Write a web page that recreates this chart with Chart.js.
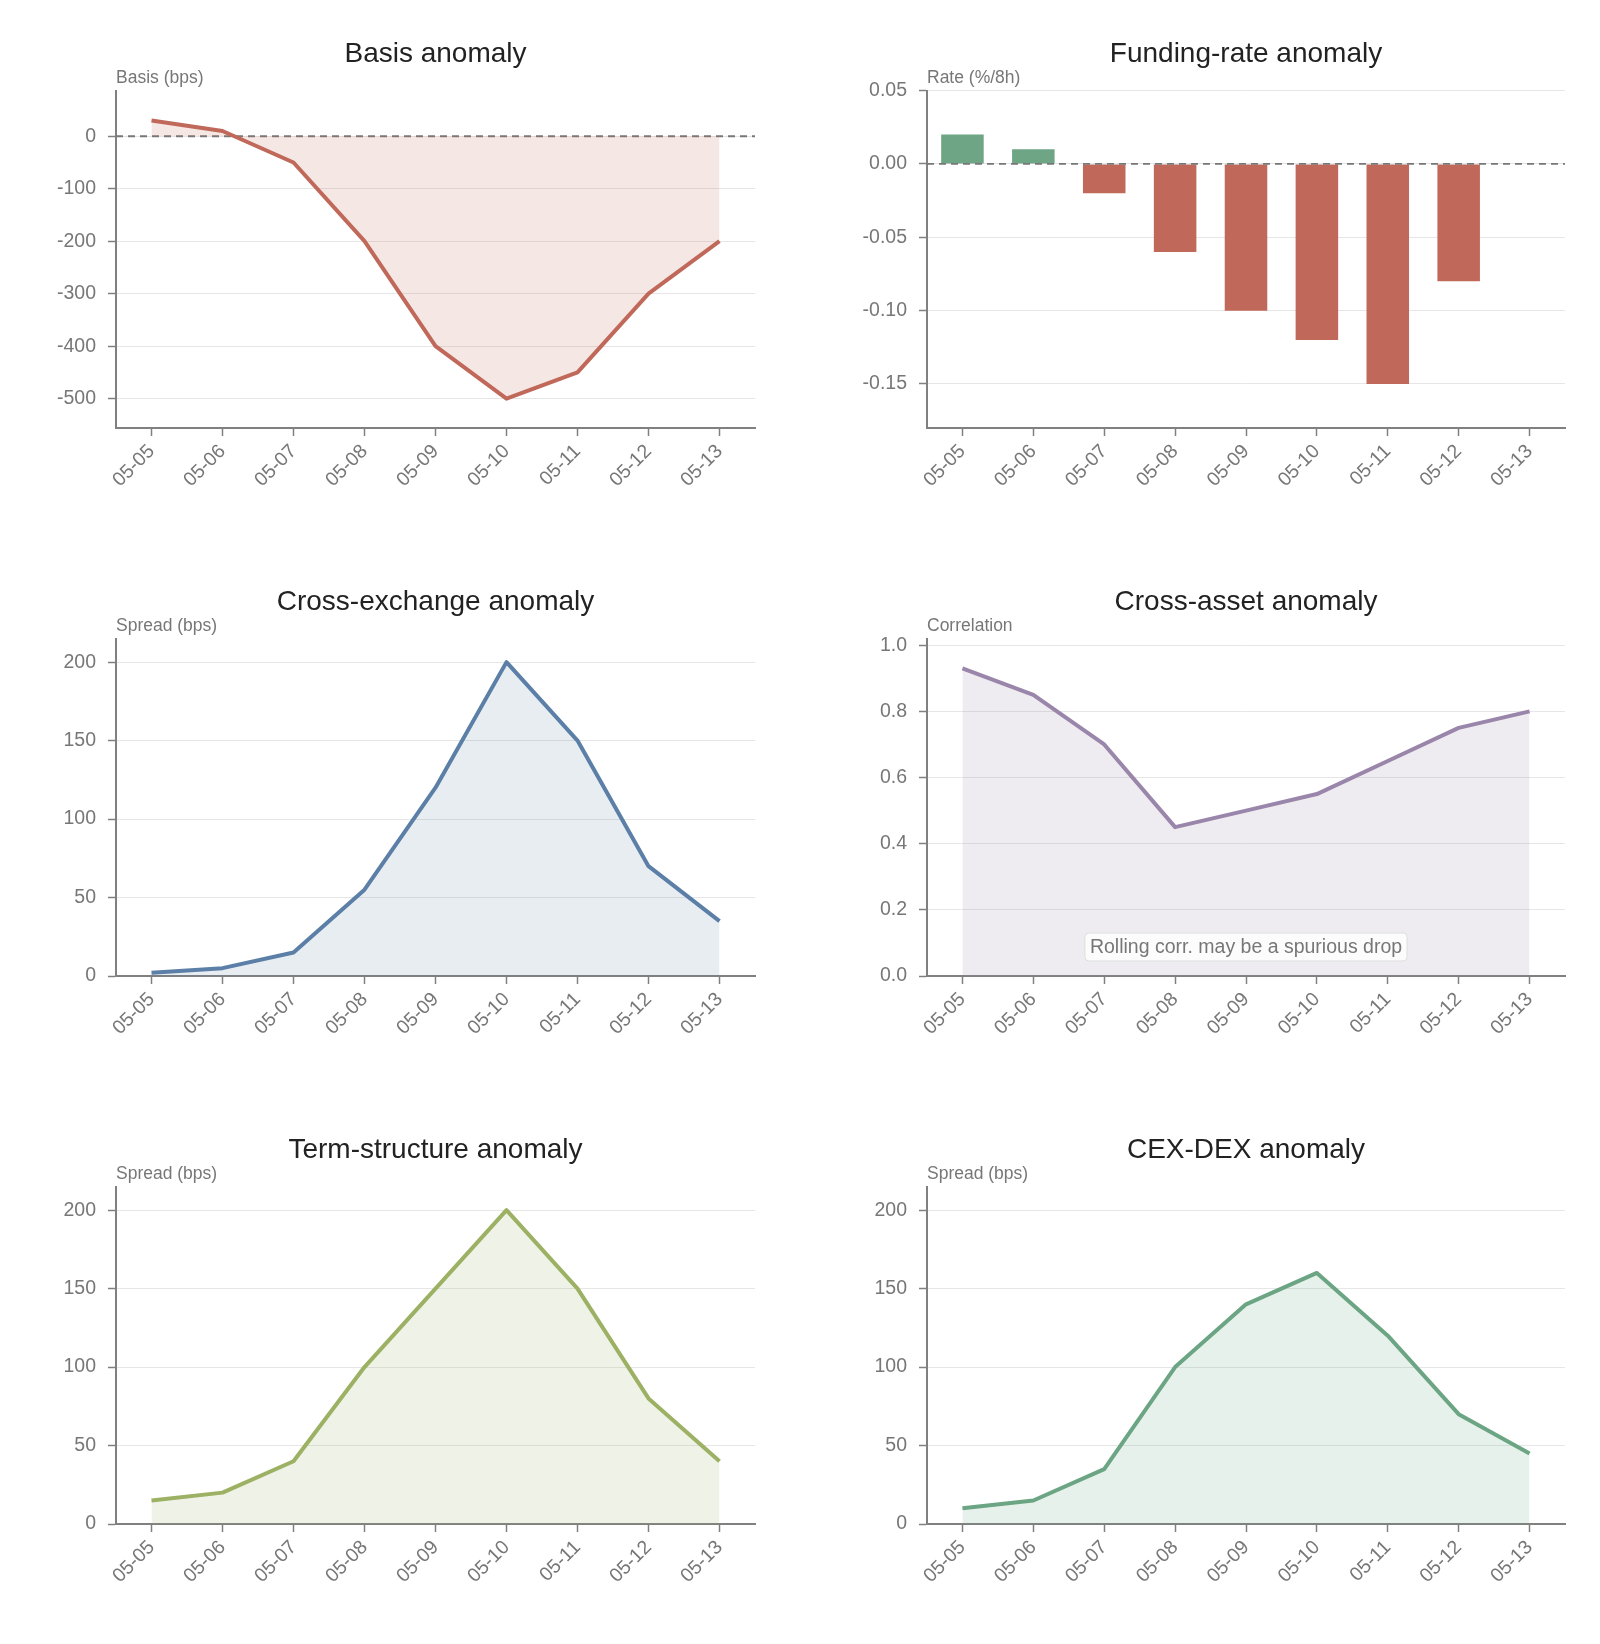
<!DOCTYPE html>
<html lang="en">
<head>
<meta charset="utf-8">
<title>Anomaly panels</title>
<script src="https://cdn.jsdelivr.net/npm/chart.js@4.4.1/dist/chart.umd.min.js"></script>
<style>
    html, body { margin: 0; padding: 0; background: #ffffff; }
    .grid {
        display: grid;
        grid-template-columns: 800px 800px;
        grid-template-rows: repeat(3, 548px);
        width: 1600px;
        height: 1644px;
    }
    .chart-container { position: relative; width: 800px; height: 548px; }
</style>
</head>
<body>
<div class="grid">
    <div class="chart-container"><canvas id="chartBasis"></canvas></div>
    <div class="chart-container"><canvas id="chartFunding"></canvas></div>
    <div class="chart-container"><canvas id="chartCrossExchange"></canvas></div>
    <div class="chart-container"><canvas id="chartCrossAsset"></canvas></div>
    <div class="chart-container"><canvas id="chartTermStructure"></canvas></div>
    <div class="chart-container"><canvas id="chartCexDex"></canvas></div>
</div>
<script>
// Data
const dates = ['05-05', '05-06', '05-07', '05-08', '05-09', '05-10', '05-11', '05-12', '05-13']

const basisValues = [30, 10, -50, -200, -400, -500, -450, -300, -200]
const fundingValues = [0.02, 0.01, -0.02, -0.06, -0.10, -0.12, -0.15, -0.08, null]
const crossExchangeValues = [2, 5, 15, 55, 120, 200, 150, 70, 35]
const crossAssetValues = [0.93, 0.85, 0.70, 0.45, 0.50, 0.55, 0.65, 0.75, 0.80]
const termStructureValues = [15, 20, 40, 100, 150, 200, 150, 80, 40]
const cexDexValues = [10, 15, 35, 100, 140, 160, 120, 70, 45]

const basisTicks = [-500, -400, -300, -200, -100, 0]
const fundingTicks = [-0.15, -0.10, -0.05, 0, 0.05]
const spreadTicks = [0, 50, 100, 150, 200]
const correlationTicks = [0, 0.2, 0.4, 0.6, 0.8, 1.0]

const crossAssetNote = 'Rolling corr. may be a spurious drop'

// Styles
const FONT = '"Liberation Sans", Arial, Helvetica, sans-serif'
const AXIS_COLOR = '#808080'
const TICK_COLOR = '#777777'
const GRID_COLOR = '#e6e6e6'
const RED = '#c0695a'
const GREEN = '#6ea585'
const TICK_FONT = { size: 19.5, family: FONT }

// Dashed line at y = 0
function zeroLine(onTop) {
    const draw = (chart) => {
        const { ctx, chartArea, scales } = chart
        const y = scales.y.getPixelForValue(0)
        ctx.save()
        ctx.strokeStyle = '#777777'
        ctx.lineWidth = 1.8
        ctx.setLineDash([7, 5])
        ctx.beginPath()
        ctx.moveTo(chartArea.left, y)
        ctx.lineTo(chartArea.right, y)
        ctx.stroke()
        ctx.restore()
    }
    return onTop
        ? { id: 'zeroLineTop', afterDatasetsDraw: draw }
        : { id: 'zeroLine', beforeDatasetsDraw: draw }
}

// Boxed note inside the correlation chart
const notePlugin = {
    id: 'note',
    afterDraw(chart) {
        const { ctx, chartArea } = chart
        ctx.save()
        ctx.font = `19.5px ${FONT}`
        const w = ctx.measureText(crossAssetNote).width + 10
        const h = 28
        const cx = (chartArea.left + chartArea.right) / 2
        const cy = chartArea.bottom - 29
        ctx.beginPath()
        ctx.roundRect(cx - w / 2, cy - h / 2, w, h, 4)
        ctx.fillStyle = 'rgba(255, 255, 255, 0.85)'
        ctx.fill()
        ctx.strokeStyle = '#dddddd'
        ctx.lineWidth = 1
        ctx.stroke()
        ctx.fillStyle = TICK_COLOR
        ctx.textAlign = 'center'
        ctx.textBaseline = 'middle'
        ctx.fillText(crossAssetNote, cx, cy + 1)
        ctx.restore()
    }
}

// Shared options for every panel
function baseOptions(cfg) {
    return {
        responsive: true,
        maintainAspectRatio: false,
        animation: false,
        layout: { padding: { left: 0, right: cfg.right, top: 0, bottom: 40 } },
        plugins: {
            legend: { display: false },
            tooltip: { enabled: false },
            title: {
                display: true,
                text: cfg.title,
                fullSize: false,
                color: '#222222',
                font: { size: 28, family: FONT, weight: 'normal' },
                padding: { top: 37, bottom: -3 }
            },
            subtitle: {
                display: true,
                text: cfg.axisLabel,
                align: 'start',
                fullSize: false,
                color: TICK_COLOR,
                font: { size: 17.5, family: FONT },
                padding: { top: 0, bottom: 2 }
            }
        },
        scales: {
            x: {
                offset: true,
                grid: {
                    offset: false,
                    drawOnChartArea: false,
                    drawTicks: true,
                    tickLength: 8,
                    tickColor: AXIS_COLOR,
                    tickWidth: 1.5
                },
                border: { color: AXIS_COLOR, width: 2 },
                ticks: {
                    color: TICK_COLOR,
                    font: TICK_FONT,
                    maxRotation: 45,
                    minRotation: 45,
                    padding: 4,
                    autoSkip: false
                },
                afterFit: (scale) => { scale.height = 80 }
            },
            y: {
                min: cfg.min,
                max: cfg.max,
                grid: {
                    color: GRID_COLOR,
                    lineWidth: 1,
                    tickLength: 8,
                    tickColor: AXIS_COLOR,
                    tickWidth: 1.5
                },
                border: { color: AXIS_COLOR, width: 2 },
                ticks: {
                    color: TICK_COLOR,
                    font: TICK_FONT,
                    padding: 12,
                    callback: (value) => Number(value).toFixed(cfg.decimals)
                },
                afterBuildTicks: (scale) => { scale.ticks = cfg.ticks.map(v => ({ value: v })) },
                afterFit: (scale) => { scale.width = cfg.left }
            }
        }
    }
}

// Line chart with area fill down to zero
function renderLineChart(id, values, color, fill, cfg, extraPlugins) {
    const ctx = document.getElementById(id).getContext('2d')
    return new Chart(ctx, {
        type: 'line',
        data: {
            labels: dates,
            datasets: [{
                data: values,
                borderColor: color,
                backgroundColor: fill,
                borderWidth: 4,
                borderJoinStyle: 'round',
                pointRadius: 0,
                tension: 0,
                fill: 'origin'
            }]
        },
        options: baseOptions(cfg),
        plugins: extraPlugins || []
    })
}

// Bar chart for funding rate, green above zero and red below
function renderFundingChart() {
    const ctx = document.getElementById('chartFunding').getContext('2d')
    const colors = fundingValues.map(v => (v !== null && v >= 0 ? GREEN : RED))
    return new Chart(ctx, {
        type: 'bar',
        data: {
            labels: dates,
            datasets: [{
                data: fundingValues,
                backgroundColor: colors,
                borderWidth: 0,
                barPercentage: 0.6,
                categoryPercentage: 1.0
            }]
        },
        options: baseOptions({
            title: 'Funding-rate anomaly', axisLabel: 'Rate (%/8h)',
            min: -0.18, max: 0.05, ticks: fundingTicks, decimals: 2, left: 127, right: 35
        }),
        plugins: [zeroLine(true)]
    })
}

renderLineChart('chartBasis', basisValues, RED, 'rgba(192, 105, 90, 0.16)', {
    title: 'Basis anomaly', axisLabel: 'Basis (bps)',
    min: -556, max: 87, ticks: basisTicks, decimals: 0, left: 116, right: 45
}, [zeroLine(false)])

renderFundingChart()

renderLineChart('chartCrossExchange', crossExchangeValues, '#5b7fa6', 'rgba(91, 127, 166, 0.14)', {
    title: 'Cross-exchange anomaly', axisLabel: 'Spread (bps)',
    min: 0, max: 215, ticks: spreadTicks, decimals: 0, left: 116, right: 45
})

renderLineChart('chartCrossAsset', crossAssetValues, '#9a86aa', 'rgba(154, 134, 170, 0.16)', {
    title: 'Cross-asset anomaly', axisLabel: 'Correlation',
    min: 0, max: 1.02, ticks: correlationTicks, decimals: 1, left: 127, right: 35
}, [notePlugin])

renderLineChart('chartTermStructure', termStructureValues, '#9cb163', 'rgba(156, 177, 99, 0.16)', {
    title: 'Term-structure anomaly', axisLabel: 'Spread (bps)',
    min: 0, max: 215, ticks: spreadTicks, decimals: 0, left: 116, right: 45
})

renderLineChart('chartCexDex', cexDexValues, '#6ca584', 'rgba(108, 165, 132, 0.16)', {
    title: 'CEX-DEX anomaly', axisLabel: 'Spread (bps)',
    min: 0, max: 215, ticks: spreadTicks, decimals: 0, left: 127, right: 35
})
</script>
</body>
</html>
